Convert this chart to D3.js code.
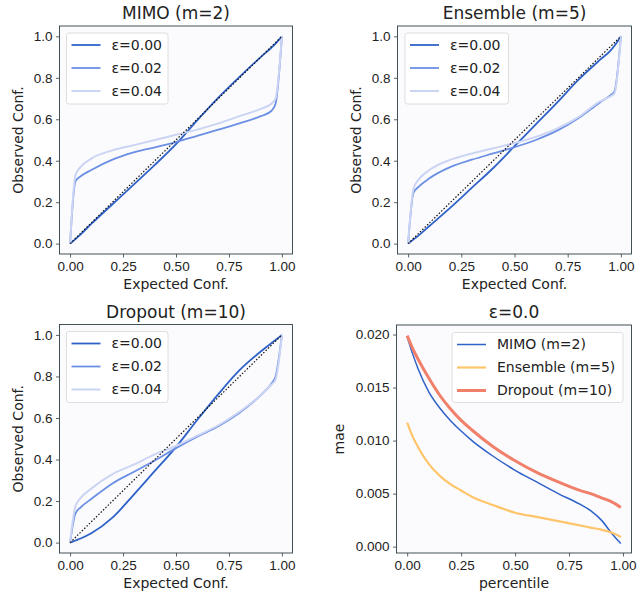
<!DOCTYPE html>
<html>
<head>
<meta charset="utf-8">
<script src="https://cdn.jsdelivr.net/npm/d3@7"></script>
<style>
  body { margin: 0; background: #fff; }
  svg { font-family: "DejaVu Sans", sans-serif; }
</style>
</head>
<body>
<div id="chart"></div>
<script>
// calibration curves: shared x grid (expected confidence)
const calX = [0, 0.025, 0.05, 0.1, 0.2, 0.3, 0.4, 0.5, 0.6, 0.7, 0.8, 0.9, 0.95, 0.97, 1]
const epsLabels = ["ε=0.00", "ε=0.02", "ε=0.04"]

const mimoE0 = [0, 0.022, 0.045, 0.095, 0.19, 0.285, 0.38, 0.48, 0.595, 0.705, 0.805, 0.9, 0.945, 0.965, 1]
const mimoE2 = [0, 0.30, 0.325, 0.355, 0.405, 0.44, 0.465, 0.49, 0.52, 0.55, 0.58, 0.615, 0.64, 0.675, 1]
const mimoE4 = [0, 0.33, 0.37, 0.41, 0.45, 0.475, 0.50, 0.525, 0.55, 0.58, 0.615, 0.65, 0.675, 0.70, 1]

const ensE0 = [0, 0.02, 0.04, 0.085, 0.175, 0.27, 0.365, 0.47, 0.575, 0.68, 0.79, 0.885, 0.93, 0.955, 1]
const ensE2 = [0, 0.245, 0.275, 0.315, 0.37, 0.405, 0.435, 0.465, 0.50, 0.545, 0.605, 0.68, 0.715, 0.735, 1]
const ensE4 = [0, 0.265, 0.31, 0.355, 0.405, 0.435, 0.46, 0.485, 0.515, 0.555, 0.61, 0.685, 0.71, 0.725, 1]

const dropE0 = [0, 0.01, 0.02, 0.045, 0.12, 0.23, 0.345, 0.46, 0.59, 0.715, 0.83, 0.92, 0.96, 0.975, 1]
const dropE2 = [0, 0.14, 0.17, 0.21, 0.285, 0.34, 0.395, 0.455, 0.51, 0.56, 0.625, 0.71, 0.765, 0.80, 1]
const dropE4 = [0, 0.175, 0.215, 0.26, 0.33, 0.375, 0.425, 0.465, 0.515, 0.565, 0.63, 0.71, 0.76, 0.785, 1]

// mae vs percentile
const pctX = [0, 0.025, 0.05, 0.1, 0.15, 0.2, 0.25, 0.3, 0.4, 0.5, 0.6, 0.7, 0.8, 0.85, 0.9, 0.95, 0.99]
const maeLabels = ["MIMO (m=2)", "Ensemble (m=5)", "Dropout (m=10)"]
const maeMimo = [0.0198, 0.0182, 0.0168, 0.0146, 0.0131, 0.0119, 0.0109, 0.0100, 0.0085, 0.0072, 0.0061, 0.0050, 0.0040, 0.0034, 0.0025, 0.0012, 0.0003]
const maeEns = [0.0117, 0.0104, 0.0094, 0.0078, 0.0067, 0.0059, 0.0053, 0.0047, 0.0039, 0.0032, 0.0028, 0.0024, 0.0020, 0.0018, 0.0016, 0.0013, 0.0009]
const maeDrop = [0.0199, 0.0187, 0.0177, 0.0159, 0.0143, 0.0130, 0.0119, 0.0110, 0.0094, 0.0081, 0.0070, 0.0061, 0.0053, 0.0050, 0.0046, 0.0042, 0.0037]

const W = 637, H = 594
const svg = d3.select("#chart").append("svg").attr("width", W).attr("height", H)
const frameColor = "#2e3f45", textColor = "#222"

const epsStyles = [
    {color: "#2f62c8", width: 1.8},
    {color: "#6b8fe3", width: 1.8},
    {color: "#cbd4f3", width: 2}
]
const maeStyles = [
    {color: "#2f62c8", width: 1.5},
    {color: "#ffc56a", width: 2.2},
    {color: "#f0806a", width: 3}
]

function panel(o){
    let g = svg.append("g")
    let x = d3.scaleLinear().domain(o.xDom).range([o.left, o.right])
    let y = d3.scaleLinear().domain(o.yDom).range([o.bottom, o.top])

    g.append("rect")
        .attr("x", o.left).attr("y", o.top)
        .attr("width", o.right - o.left).attr("height", o.bottom - o.top)
        .attr("fill", "#fbfbfe")

    //AXES
    let xa = g.append("g").attr("transform", "translate(0," + o.bottom + ")")
        .call(d3.axisBottom(x).tickValues(o.xTicks).tickFormat(d3.format(".2f")).tickSize(3.5).tickPadding(3.5))
    let ya = g.append("g").attr("transform", "translate(" + o.left + ",0)")
        .call(d3.axisLeft(y).tickValues(o.yTicks).tickFormat(d3.format(o.yFmt)).tickSize(3.5).tickPadding(3.5))
    ;[xa, ya].forEach(a=>{
        a.select(".domain").remove()
        a.selectAll("line").attr("stroke", frameColor).attr("stroke-width", 0.8)
        a.selectAll("text").attr("fill", textColor).style("font-size", "13.5px")
    })

    //LINES
    let line = d3.line().x(d=>x(d[0])).y(d=>y(d[1])).curve(d3.curveMonotoneX)
    o.series.forEach((s, i)=>{
        g.append("path")
            .datum(o.xs.map((v, j)=>[v, s[j]]))
            .attr("d", line)
            .attr("fill", "none")
            .attr("stroke", o.styles[i].color)
            .attr("stroke-width", o.styles[i].width)
            .attr("stroke-linejoin", "round")
    })
    if(o.diag){
        g.append("path")
            .datum([[0, 0], [1, 1]])
            .attr("d", d3.line().x(d=>x(d[0])).y(d=>y(d[1])))
            .attr("stroke", "#111").attr("stroke-width", 1.2)
            .attr("stroke-dasharray", "1.5,1.8")
    }

    //FRAME
    g.append("rect")
        .attr("x", o.left).attr("y", o.top)
        .attr("width", o.right - o.left).attr("height", o.bottom - o.top)
        .attr("fill", "none").attr("stroke", frameColor).attr("stroke-width", 0.9)

    //TEXTS
    let cx = (o.left + o.right) / 2, cy = (o.top + o.bottom) / 2
    g.append("text").attr("x", cx).attr("y", o.top - 7)
        .attr("text-anchor", "middle").attr("fill", textColor)
        .style("font-size", "17px").text(o.title)
    g.append("text").attr("x", cx).attr("y", o.bottom + 35)
        .attr("text-anchor", "middle").attr("fill", textColor)
        .style("font-size", "14px").text(o.xLabel)
    g.append("text")
        .attr("transform", "translate(" + o.yLabelX + "," + cy + ") rotate(-90)")
        .attr("text-anchor", "middle").attr("dy", "0.35em").attr("fill", textColor)
        .style("font-size", "14px").text(o.yLabel)

    //LEGEND
    let L = o.legend
    g.append("rect")
        .attr("x", L.x).attr("y", L.y).attr("width", L.w).attr("height", L.h)
        .attr("rx", 2.5)
        .attr("fill", "#fff").attr("fill-opacity", 0.85)
        .attr("stroke", "#d6d6d6").attr("stroke-width", 0.8)
    o.labels.forEach((lab, i)=>{
        let ry = L.y + 12 + i * 23
        g.append("line")
            .attr("x1", L.x + 5).attr("x2", L.x + 34)
            .attr("y1", ry).attr("y2", ry)
            .attr("stroke", o.styles[i].color).attr("stroke-width", o.styles[i].width)
        g.append("text").attr("x", L.x + 45).attr("y", ry).attr("dy", "0.35em")
            .attr("fill", textColor).style("font-size", "14px").text(lab)
    })
}

const calXTicks = [0, 0.25, 0.5, 0.75, 1]
const calYTicks = [0, 0.2, 0.4, 0.6, 0.8, 1]

panel({title: "MIMO (m=2)", left: 59.5, right: 292.5, top: 26, bottom: 254,
    xDom: [-0.05, 1.05], yDom: [-0.05, 1.05], xTicks: calXTicks, yTicks: calYTicks, yFmt: ".1f",
    xs: calX, series: [mimoE0, mimoE2, mimoE4], styles: epsStyles, labels: epsLabels, diag: true,
    xLabel: "Expected Conf.", yLabel: "Observed Conf.", yLabelX: 18,
    legend: {x: 66.5, y: 33, w: 101.5, h: 71}})

panel({title: "Ensemble (m=5)", left: 397.5, right: 631.5, top: 26, bottom: 254,
    xDom: [-0.05, 1.05], yDom: [-0.05, 1.05], xTicks: calXTicks, yTicks: calYTicks, yFmt: ".1f",
    xs: calX, series: [ensE0, ensE2, ensE4], styles: epsStyles, labels: epsLabels, diag: true,
    xLabel: "Expected Conf.", yLabel: "Observed Conf.", yLabelX: 356,
    legend: {x: 405, y: 33, w: 103.5, h: 71}})

panel({title: "Dropout (m=10)", left: 59.5, right: 292.5, top: 324.5, bottom: 553,
    xDom: [-0.05, 1.05], yDom: [-0.05, 1.05], xTicks: calXTicks, yTicks: calYTicks, yFmt: ".1f",
    xs: calX, series: [dropE0, dropE2, dropE4], styles: epsStyles, labels: epsLabels, diag: true,
    xLabel: "Expected Conf.", yLabel: "Observed Conf.", yLabelX: 18,
    legend: {x: 66.5, y: 331.5, w: 101.5, h: 71}})

panel({title: "ε=0.0", left: 396.5, right: 631.5, top: 325, bottom: 553,
    xDom: [-0.0495, 1.0395], yDom: [-0.0006, 0.0209], xTicks: calXTicks,
    yTicks: [0, 0.005, 0.01, 0.015, 0.02], yFmt: ".3f",
    xs: pctX, series: [maeMimo, maeEns, maeDrop], styles: maeStyles, labels: maeLabels, diag: false,
    xLabel: "percentile", yLabel: "mae", yLabelX: 339,
    legend: {x: 452, y: 332.5, w: 171, h: 70}})
</script>
</body>
</html>
